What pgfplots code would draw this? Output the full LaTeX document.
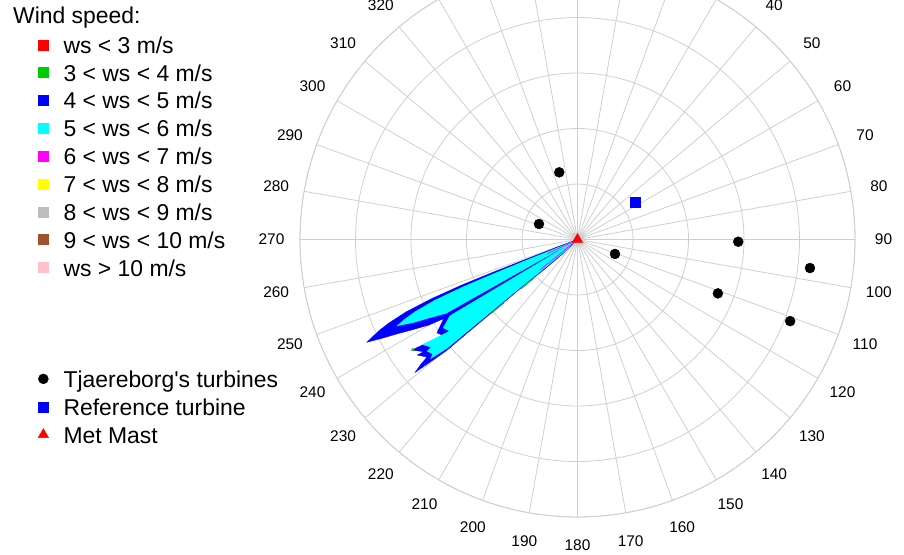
\documentclass[border=0pt]{standalone}
\usepackage{pgfplots}
\usepgfplotslibrary{polar}
\pgfplotsset{compat=1.18}
\usepackage{fontspec}
\setmainfont{Liberation Sans}
\definecolor{gridgray}{HTML}{CFCFCF}
\definecolor{wsred}{HTML}{FF0000}
\definecolor{wsgreen}{HTML}{00CD00}
\definecolor{wsblue}{HTML}{0000FF}
\definecolor{wscyan}{HTML}{00FFFF}
\definecolor{wsmagenta}{HTML}{FF00FF}
\definecolor{wsyellow}{HTML}{FFFF00}
\definecolor{wsgray}{HTML}{BEBEBE}
\definecolor{wsbrown}{HTML}{A0522D}
\definecolor{wspink}{HTML}{FFC0CB}
\begin{document}
\begin{tikzpicture}
\useasboundingbox (0bp,0bp) rectangle (904bp,555bp);
\clip (0bp,0bp) rectangle (904bp,555bp);
\begin{polaraxis}[
  at={(577.5bp,315.5bp)}, anchor=center,
  width=555bp, height=555bp, scale only axis,
  xmin=0, xmax=360, ymin=0, ymax=5,
  xtick={0,10,...,350},
  xticklabels={90,80,70,60,50,40,{},{},{},{},{},{},{},320,310,300,290,280,270,260,250,240,230,220,210,200,190,180,170,160,150,140,130,120,110,100},
  ytick={1,2,3,4,5}, yticklabels={},
  grid=major,
  major grid style={draw=gridgray, line width=0.8bp},
  axis line style={draw=gridgray, line width=0.8bp},
  major tick length=0pt,
  xticklabel style={font=\fontsize{15.5}{18}\selectfont, anchor=center},
  xticklabel shift=28.5bp,
]
% wind speed 4-5 m/s (outer blue)
\addplot[draw=wsblue, fill=wsblue, line width=0.4bp] coordinates {
(199,0) (200.4,0.4) (201.0,1.0) (201.2,1.65) (201.5,2.25) (202.1,2.85) (202.9,3.35) (203.9,3.72) (204.7,3.94) (206.0,4.22)
(206.8,3.95) (207.5,3.70) (208.7,3.38) (209.9,3.09) (210.6,2.80)
(213.6,3.04) (215.6,2.97) (213.7,3.59) (216.1,3.43) (215.8,3.56) (218.0,3.44) (218.6,3.62) (219.3,3.78)
(220.3,3.1) (220.4,2.0) (220.7,1.2) (222,0.8) (224,0.4) (225,0)};
% wind speed 5-6 m/s (cyan)
\addplot[draw=none, fill=wscyan] coordinates {
(201.8,0) (201.9,1.0) (202.1,1.65) (202.4,2.25) (203.0,2.8) (203.9,3.2) (204.8,3.45) (205.6,3.62) (206.4,3.42) (206.9,3.32)
(207.9,3.03) (209.4,2.72) (210.1,0.02) (210.8,2.68)
(213.3,2.90) (215.5,2.84) (214.1,3.38) (216.3,3.28) (216.6,3.38) (218.3,3.33) (219.1,3.42)
(219.9,3.05) (220.0,2.0) (220.3,1.2) (221.5,0.7) (223.5,0.3) (224,0)};
% wind speed 3-4 m/s (green bits)
\addplot[draw=wsgreen, line width=0.7bp] coordinates {(213.4,3.55) (213.7,3.59) (213.9,3.52)};
\addplot[draw=wsgreen, line width=0.7bp] coordinates {(220.6,2.05) (220.8,1.75)};
\addplot[draw=wsgreen, line width=0.7bp] coordinates {(221.2,1.35) (221.8,1.05)};
% wind speed 6-7 m/s (magenta)
\addplot[draw=wsmagenta, fill=wsmagenta, line width=0.6bp] coordinates {
(204.6,0) (205.2,0.6) (205.6,0.05) (218.7,0.05) (219.1,0.87) (219.5,0)};
% turbines
\addplot[only marks, mark=*, mark size=5bp, black] coordinates {
(105.2,1.254) (158.1,0.748) (338.9,0.724) (359.2,2.897) (353.0,4.22) (339.0,2.709) (339.0,4.104)};
\addplot[only marks, mark=square*, mark size=5bp, wsblue] coordinates {(33.3,1.24)};
\addplot[only marks, mark=triangle*, mark size=6bp, wsred] coordinates {(0,0)};
\end{polaraxis}
\begin{axis}[
  at={(0bp,0bp)}, anchor=south west,
  width=904bp, height=555bp, scale only axis, hide axis,
  xmin=0, xmax=904, ymin=0, ymax=555,
  legend cell align=left,
  legend image code/.code={\draw[#1] plot coordinates {(0bp,0bp)};},
  legend style={at={(0.042,0.9387)}, anchor=north west, draw=none, fill=none,
    font=\fontsize{23}{27}\selectfont, row sep=6.85bp, column sep=15bp, inner sep=0pt,
    nodes={inner sep=0pt, text height=19bp, text depth=2bp}},
]
\addlegendimage{only marks, mark=square*, mark size=5bp, wsred}\addlegendentry{ws < 3 m/s}
\addlegendimage{only marks, mark=square*, mark size=5bp, wsgreen}\addlegendentry{3 < ws < 4 m/s}
\addlegendimage{only marks, mark=square*, mark size=5bp, wsblue}\addlegendentry{4 < ws < 5 m/s}
\addlegendimage{only marks, mark=square*, mark size=5bp, wscyan}\addlegendentry{5 < ws < 6 m/s}
\addlegendimage{only marks, mark=square*, mark size=5bp, wsmagenta}\addlegendentry{6 < ws < 7 m/s}
\addlegendimage{only marks, mark=square*, mark size=5bp, wsyellow}\addlegendentry{7 < ws < 8 m/s}
\addlegendimage{only marks, mark=square*, mark size=5bp, wsgray}\addlegendentry{8 < ws < 9 m/s}
\addlegendimage{only marks, mark=square*, mark size=5bp, wsbrown}\addlegendentry{9 < ws < 10 m/s}
\addlegendimage{only marks, mark=square*, mark size=5bp, wspink}\addlegendentry{ws > 10 m/s}
\addlegendimage{empty legend}\addlegendentry{}
\addlegendimage{empty legend}\addlegendentry{}
\addlegendimage{empty legend}\addlegendentry{}
\addlegendimage{only marks, mark=*, mark size=5bp, black}\addlegendentry{Tjaereborg\textquotesingle s turbines}
\addlegendimage{only marks, mark=square*, mark size=5bp, wsblue}\addlegendentry{Reference turbine}
\addlegendimage{only marks, mark=triangle*, mark size=6bp, wsred}\addlegendentry{Met Mast}
\end{axis}
\node[anchor=base west, inner sep=0pt, font=\fontsize{23}{27}\selectfont] at (13bp,531bp) {Wind speed:};
\end{tikzpicture}
\end{document}
